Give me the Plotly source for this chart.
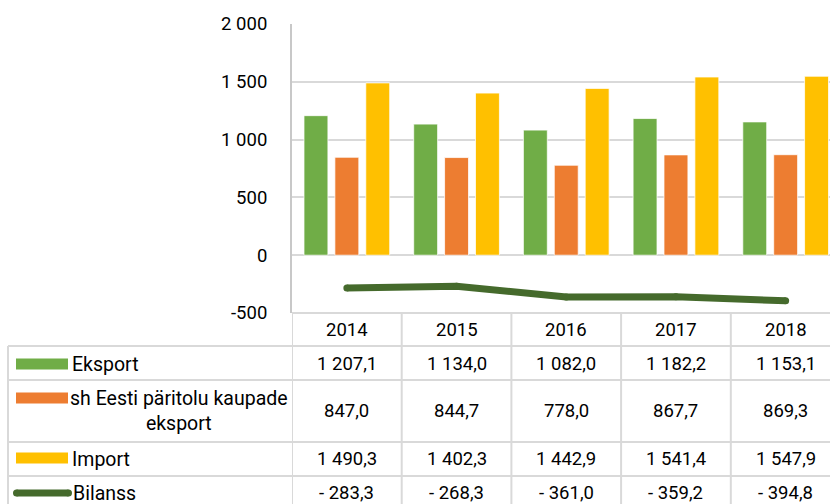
import plotly.graph_objects as go

# ---------------- data ----------------
years = ["2014", "2015", "2016", "2017", "2018"]
eksport = [1207.1, 1134.0, 1082.0, 1182.2, 1153.1]
eesti_eksport = [847.0, 844.7, 778.0, 867.7, 869.3]
import_ = [1490.3, 1402.3, 1442.9, 1541.4, 1547.9]
bilanss = [-283.3, -268.3, -361.0, -359.2, -394.8]
series_names = ["Eksport", "sh Eesti päritolu kaupade<br>eksport", "Import", "Bilanss"]
y_tick_vals = [-500, 0, 500, 1000, 1500, 2000]
y_tick_labels = ["-500", "0", "500", "1 000", "1 500", "2 000"]

# ---------------- style ----------------
GREEN = "#70ad47"
ORANGE = "#ed7d31"
YELLOW = "#ffc000"
DARK = "#456a2c"
GRID = "#d9d9d9"
TXT = "#000000"
FONT = "Roboto"
FS = 18.5
FS_LABEL = 19.5

W, H = 830, 504
PLOT_L, PLOT_T, PLOT_B = 292, 24, 313
CAT_W = 109.7
HEAD_B = 346
ROW_BOUNDS = [346, 380, 442, 476, 512]  # table row edges (px)
TABLE_L = 8


def px(x):
    return x / W


def py(y):
    return 1 - y / H


def fmt(v):
    s = f"{abs(v):,.1f}".replace(",", " ").replace(".", ",")
    return ("- " if v < 0 else "") + s


x_idx = list(range(len(years)))

fig = go.Figure()
bar_line = dict(color="rgba(255,255,255,0.75)", width=1)
fig.add_bar(x=x_idx, y=eksport, name="Eksport", marker=dict(color=GREEN, line=bar_line))
fig.add_bar(x=x_idx, y=eesti_eksport, name="sh Eesti", marker=dict(color=ORANGE, line=bar_line))
fig.add_bar(x=x_idx, y=import_, name="Import", marker=dict(color=YELLOW, line=bar_line))
fig.add_scatter(x=x_idx, y=bilanss, name="Bilanss", mode="lines+markers",
                line=dict(color=DARK, width=7), marker=dict(color=DARK, size=7))

shapes = []
annotations = []

line_style = dict(color=GRID, width=2)

# plot bottom / table top
shapes.append(dict(type="line", xref="paper", yref="paper", x0=px(PLOT_L), x1=1,
                   y0=py(PLOT_B), y1=py(PLOT_B), line=line_style, layer="above"))
# horizontal table lines
for yb in ROW_BOUNDS[:-1]:
    shapes.append(dict(type="line", xref="paper", yref="paper", x0=px(TABLE_L), x1=1,
                       y0=py(yb), y1=py(yb), line=line_style))
# left table border
shapes.append(dict(type="line", xref="paper", yref="paper", x0=px(TABLE_L), x1=px(TABLE_L),
                   y0=py(HEAD_B), y1=0, line=line_style))
# vertical column dividers (follow the category scale)
for i in range(len(years) + 1):
    shapes.append(dict(type="line", xref="x", yref="paper", x0=i - 0.5, x1=i - 0.5,
                       y0=py(PLOT_B), y1=0, line=line_style))

# header years
for i, yr in enumerate(years):
    annotations.append(dict(x=i, y=py(330), xref="x", yref="paper", text=yr,
                            showarrow=False, xanchor="center", yanchor="middle"))

rows = [eksport, eesti_eksport, import_, bilanss]
row_centers = [364, 411, 459, 493]
for vals, yc in zip(rows, row_centers):
    for i, v in enumerate(vals):
        annotations.append(dict(x=i, y=py(yc), xref="x", yref="paper", text=fmt(v),
                                showarrow=False, xanchor="center", yanchor="middle"))

# legend labels in first column
lab_font = dict(size=FS_LABEL)
annotations.append(dict(x=px(70), y=py(364), xref="paper", yref="paper", text=series_names[0],
                        showarrow=False, xanchor="left", yanchor="middle", font=lab_font))
annotations.append(dict(x=px(179), y=py(411), xref="paper", yref="paper", text=series_names[1],
                        showarrow=False, xanchor="center", yanchor="middle", align="center",
                        font=lab_font))
annotations.append(dict(x=px(70), y=py(459), xref="paper", yref="paper", text=series_names[2],
                        showarrow=False, xanchor="left", yanchor="middle", font=lab_font))
annotations.append(dict(x=px(71), y=py(493), xref="paper", yref="paper", text=series_names[3],
                        showarrow=False, xanchor="left", yanchor="middle", font=lab_font))

# legend keys
for col, yc in [(GREEN, 364), (ORANGE, 398), (YELLOW, 458)]:
    shapes.append(dict(type="rect", xref="paper", yref="paper", x0=px(16), x1=px(68),
                       y0=py(yc + 5.5), y1=py(yc - 5.5), fillcolor=col, line=dict(width=0)))
kc = 493
shapes.append(dict(type="line", xref="paper", yref="paper", x0=px(16.5), x1=px(68.5),
                   y0=py(kc), y1=py(kc), line=dict(color=DARK, width=7)))
for cx in (16.5, 68.5):
    shapes.append(dict(type="circle", xref="paper", yref="paper", x0=px(cx - 3.5), x1=px(cx + 3.5),
                       y0=py(kc + 3.5), y1=py(kc - 3.5), fillcolor=DARK, line=dict(width=0)))

fig.update_layout(
    width=W, height=H,
    margin=dict(l=0, r=0, t=0, b=0, pad=0, autoexpand=False),
    paper_bgcolor="white", plot_bgcolor="white",
    font=dict(family=FONT, size=FS, color=TXT),
    barmode="group", bargap=0.155, bargroupgap=0.226,
    showlegend=False,
    shapes=shapes, annotations=annotations,
    xaxis=dict(domain=[px(PLOT_L), 1], range=[-0.5, -0.5 + (W - PLOT_L) / CAT_W],
               showticklabels=False, showgrid=False, zeroline=False, showline=False,
               fixedrange=True, automargin=False),
    yaxis=dict(domain=[py(PLOT_B), py(PLOT_T)], range=[-500, 2000],
               tickvals=y_tick_vals, ticktext=y_tick_labels,
               tickfont=dict(size=18.5),
               showgrid=True, gridcolor=GRID, gridwidth=1.5,
               zeroline=False, showline=True, linecolor="#c8c8c8", linewidth=2,
               ticks="", ticklabelstandoff=19, fixedrange=True, automargin=False),
)

fig.write_html("out.html", config={"displayModeBar": False},
               post_script="document.body.style.margin='0';document.body.style.overflow='hidden';")
